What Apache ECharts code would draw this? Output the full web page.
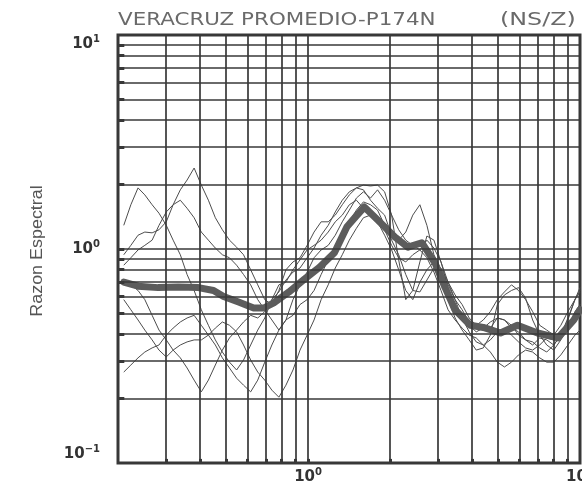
<!DOCTYPE html>
<html>
<head>
<meta charset="utf-8">
<script src="https://cdn.jsdelivr.net/npm/echarts@6/dist/echarts.min.js"></script>
<style>
  html, body { margin: 0; padding: 0; background: #ffffff; }
  #chart { width: 582px; height: 485px; }
</style>
</head>
<body>
<div id="chart"></div>
<script>
// Frequency samples (Hz) shared by the individual station ratios
const freqGrid = [0.210,0.223,0.237,0.251,0.267,0.283,0.301,0.319,0.339,0.359,0.381,0.405,0.430,0.456,0.484,0.514,0.546,0.579,0.615,0.653,0.693,0.736,0.781,0.829,0.880,0.934,0.992,1.052,1.117,1.186,1.259,1.336,1.418,1.506,1.598,1.697,1.801,1.912,2.029,2.154,2.287,2.427,2.577,2.735,2.903,3.082,3.272,3.473,3.686,3.913,4.154,4.410,4.681,4.968,5.274,5.598,5.943,6.308,6.696,7.108,7.546,8.010,8.502,9.026,9.581,10.0];

// Individual spectral ratios (NS/Z)
const ratio1 = [0.94,1.04,1.16,1.20,1.19,1.23,1.34,1.61,1.89,2.10,2.39,1.99,1.69,1.40,1.23,1.10,1.02,0.94,0.80,0.68,0.58,0.55,0.64,0.80,0.87,0.91,1.04,1.20,1.34,1.34,1.44,1.61,1.79,1.93,1.89,1.69,1.55,1.44,1.16,1.10,1.20,1.44,1.61,1.29,0.94,0.80,0.68,0.58,0.52,0.456,0.44,0.418,0.427,0.476,0.466,0.44,0.396,0.376,0.356,0.384,0.376,0.356,0.396,0.466,0.58,0.64];
const ratio2 = [1.29,1.61,1.93,1.79,1.61,1.47,1.29,1.10,0.94,0.76,0.64,0.52,0.44,0.376,0.33,0.296,0.272,0.303,0.356,0.418,0.476,0.58,0.68,0.70,0.80,0.89,0.99,1.04,1.10,1.20,1.34,1.44,1.61,1.69,1.55,1.49,1.34,1.16,0.99,0.80,0.64,0.58,0.70,0.80,0.87,0.716,0.58,0.476,0.418,0.376,0.337,0.345,0.396,0.55,0.61,0.64,0.66,0.59,0.466,0.396,0.356,0.337,0.376,0.427,0.51,0.55];
const ratio3 = [0.58,0.52,0.466,0.418,0.376,0.337,0.313,0.337,0.356,0.368,0.376,0.376,0.396,0.427,0.456,0.44,0.41,0.356,0.303,0.266,0.244,0.219,0.203,0.231,0.272,0.337,0.396,0.466,0.58,0.68,0.815,0.94,1.10,1.25,1.40,1.44,1.37,1.23,1.04,0.91,0.87,0.94,0.99,0.91,0.78,0.64,0.52,0.466,0.427,0.396,0.384,0.356,0.33,0.296,0.281,0.296,0.32,0.337,0.33,0.31,0.296,0.296,0.32,0.356,0.396,0.418];
const ratio4 = [0.266,0.287,0.31,0.33,0.345,0.356,0.396,0.427,0.456,0.476,0.49,0.44,0.396,0.356,0.31,0.278,0.249,0.231,0.215,0.244,0.296,0.356,0.418,0.466,0.49,0.55,0.58,0.64,0.76,0.89,1.01,1.16,1.34,1.52,1.66,1.61,1.52,1.29,1.10,0.94,0.76,0.64,0.63,0.716,0.815,0.815,0.70,0.58,0.476,0.41,0.368,0.356,0.376,0.41,0.418,0.396,0.368,0.345,0.337,0.356,0.384,0.376,0.396,0.44,0.49,0.55];
const ratio5 = [0.84,0.91,0.99,1.04,1.10,1.29,1.49,1.61,1.69,1.55,1.40,1.20,1.10,1.01,0.94,0.91,0.84,0.76,0.68,0.58,0.52,0.466,0.418,0.466,0.58,0.68,0.78,0.91,0.99,1.04,1.16,1.34,1.52,1.73,1.85,1.73,1.89,1.69,1.44,1.23,1.10,1.04,0.99,1.10,1.01,0.87,0.70,0.61,0.55,0.476,0.44,0.466,0.51,0.58,0.63,0.68,0.64,0.58,0.51,0.44,0.418,0.396,0.44,0.51,0.58,0.63];
const ratio6 = [0.716,0.68,0.64,0.58,0.49,0.418,0.376,0.337,0.31,0.278,0.244,0.215,0.244,0.287,0.337,0.384,0.418,0.456,0.49,0.476,0.51,0.58,0.63,0.716,0.78,0.815,0.91,1.01,1.16,1.29,1.49,1.69,1.85,1.93,1.99,1.97,1.99,1.85,1.44,0.89,0.58,0.64,0.87,1.15,1.10,0.87,0.66,0.55,0.49,0.44,0.41,0.427,0.456,0.476,0.466,0.427,0.41,0.376,0.368,0.345,0.33,0.356,0.396,0.476,0.58,0.66];

// Average ratio (PROMEDIO)
const meanFreq = [0.21,0.237,0.281,0.333,0.395,0.449,0.489,0.555,0.631,0.687,0.748,0.851,0.966,1.099,1.25,1.39,1.5,1.61,1.80,2.08,2.33,2.62,2.93,3.19,3.47,3.95,4.41,5.1,5.89,6.98,8.29,9.49,10];
const meanRatio = [0.70,0.67,0.66,0.665,0.66,0.64,0.60,0.565,0.53,0.53,0.56,0.63,0.72,0.82,0.96,1.27,1.42,1.57,1.37,1.14,1.02,1.07,0.86,0.66,0.52,0.44,0.43,0.405,0.44,0.405,0.384,0.466,0.52];

// Log-paper rulings
const xRulings = [0.3,0.4,0.5,0.6,0.7,0.8,0.9,1,2,3,4,5,6,7,8,9];
const yRulings = [0.2,0.3,0.4,0.5,0.6,0.7,0.8,0.9,1,2,3,4,5,6,7,8,9];

const titleMain = 'VERACRUZ PROMEDIO-P174N';
const titleComp = '(NS/Z)';
const yName = 'Razon Espectral';

const X_MIN = 0.2, X_MAX = 10, Y_MIN = 0.1, Y_MAX = 10;
const INK = '#383838';

const chart = echarts.init(document.getElementById('chart'), null, { renderer: 'canvas' });

function decadeLabel(v) {
  const e = Math.log10(v);
  const r = Math.round(e);
  if (Math.abs(e - r) > 1e-6) return '';
  const exp = r < 0 ? '\u2212' + Math.abs(r) : String(r);
  return '{b|10}{s|' + exp + '}';
}

const labelRich = {
  b: { fontFamily: 'DejaVu Sans', fontWeight: 'bold', fontSize: 15, color: '#333', lineHeight: 18 },
  s: { fontFamily: 'DejaVu Sans', fontWeight: 'bold', fontSize: 10, color: '#333', lineHeight: 18, padding: [0, 0, 9, 0] }
};

const rulingLines = [];
xRulings.forEach(v => rulingLines.push({ xAxis: v }));
yRulings.forEach(v => rulingLines.push({ yAxis: v }));

// short inward tick marks along the left and bottom frame
const tickMarks = [];
yRulings.forEach(v => tickMarks.push([{ coord: [X_MIN, v] }, { coord: [X_MIN * 1.055, v] }]));
xRulings.forEach(v => tickMarks.push([{ coord: [v, Y_MIN] }, { coord: [v, Y_MIN * 1.045] }]));

const stations = [ratio1, ratio2, ratio3, ratio4, ratio5, ratio6];

const series = [
  {
    type: 'line', data: [], silent: true, z: 1,
    markLine: {
      silent: true, symbol: ['none', 'none'], animation: false,
      label: { show: false }, emphasis: { disabled: true },
      lineStyle: { color: INK, width: 1.7, type: 'solid' },
      data: rulingLines
    }
  },
  {
    type: 'line', data: [], silent: true, z: 1,
    markLine: {
      silent: true, symbol: ['none', 'none'], animation: false,
      label: { show: false }, emphasis: { disabled: true },
      lineStyle: { color: INK, width: 3, type: 'solid' },
      data: tickMarks
    }
  }
];

stations.forEach(vals => {
  series.push({
    type: 'line', showSymbol: false, silent: true, z: 3,
    data: freqGrid.map((f, i) => [f, vals[i]]),
    lineStyle: { color: '#4d4d4d', width: 1 }
  });
});

series.push({
  type: 'line', showSymbol: false, silent: true, z: 4,
  data: meanFreq.map((f, i) => [f, meanRatio[i]]),
  lineStyle: { color: '#5c5c5c', width: 7, join: 'round', cap: 'round' }
});

chart.setOption({
  animation: false,
  backgroundColor: '#ffffff',
  grid: {
    left: 118, right: 2, top: 35, bottom: 22,
    containLabel: false, outerBoundsMode: 'none',
    show: true, borderColor: INK, borderWidth: 3, backgroundColor: 'transparent'
  },
  xAxis: {
    type: 'log', logBase: 10, min: X_MIN, max: X_MAX,
    axisLine: { show: false }, axisTick: { show: false }, splitLine: { show: false },
    axisLabel: { formatter: decadeLabel, rich: labelRich, margin: 5, showMinLabel: true, showMaxLabel: true, hideOverlap: false }
  },
  yAxis: {
    type: 'log', logBase: 10, min: Y_MIN, max: Y_MAX,
    axisLine: { show: false }, axisTick: { show: false }, splitLine: { show: false },
    axisLabel: { formatter: decadeLabel, rich: labelRich, margin: 18, verticalAlignMinLabel: 'bottom', verticalAlignMaxLabel: 'top' }
  },
  graphic: [
    { type: 'text', x: 118, y: 21, scaleX: 1.26, silent: true,
      style: { text: titleMain, fontFamily: 'DejaVu Sans', fontSize: 17, fill: '#6a6a6a', textVerticalAlign: 'middle' } },
    { type: 'text', x: 500, y: 21, scaleX: 1.4, silent: true,
      style: { text: titleComp, fontFamily: 'DejaVu Sans', fontSize: 17, fill: '#6a6a6a', textVerticalAlign: 'middle' } },
    { type: 'text', x: 38, y: 251, rotation: Math.PI / 2, scaleX: 1.12, silent: true,
      style: { text: yName, fontFamily: 'Liberation Sans Narrow, Liberation Sans', fontSize: 16, fill: '#555', textAlign: 'center', textVerticalAlign: 'middle' } }
  ],
  series: series
});
</script>
</body>
</html>
